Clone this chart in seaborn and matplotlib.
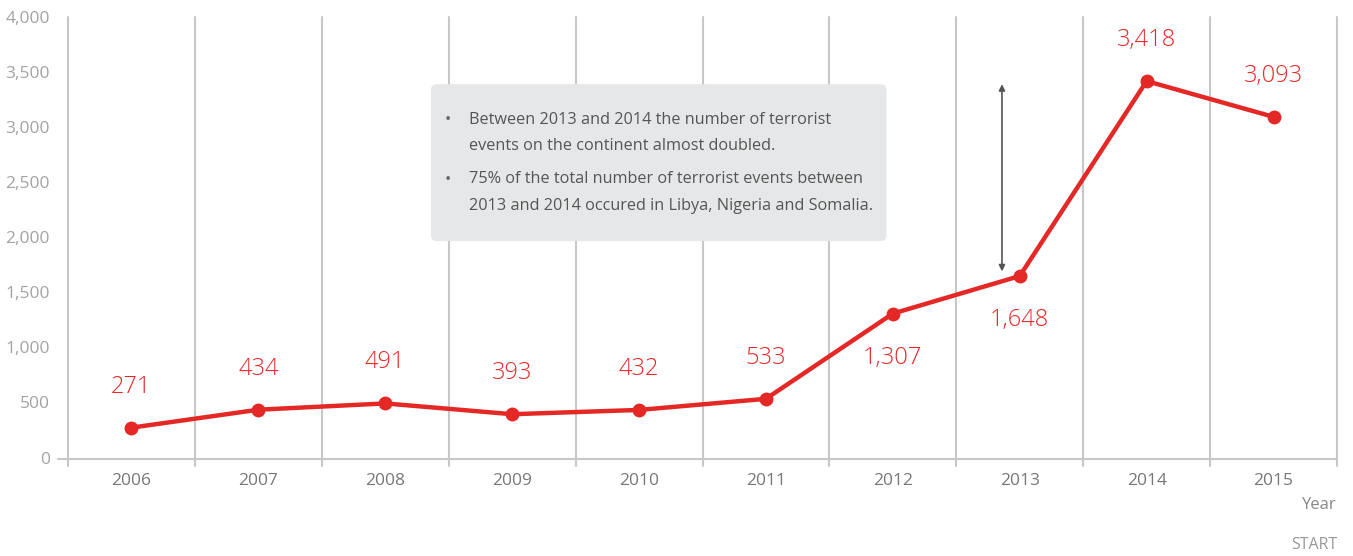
import matplotlib
matplotlib.use("Agg")
import matplotlib.pyplot as plt
import matplotlib.transforms as mtransforms
import seaborn as sns
import pandas as pd
from matplotlib.patches import FancyBboxPatch

# Data
years = ["2006", "2007", "2008", "2009", "2010", "2011", "2012", "2013", "2014", "2015"]
events = [271, 434, 491, 393, 432, 533, 1307, 1648, 3418, 3093]
label_below = ["2012", "2013"]
y_ticks = [0, 500, 1000, 1500, 2000, 2500, 3000, 3500, 4000]
notes = [
    "Between 2013 and 2014 the number of terrorist\nevents on the continent almost doubled.",
    "75% of the total number of terrorist events between\n2013 and 2014 occured in Libya, Nigeria and Somalia.",
]

df = pd.DataFrame({"year": years, "events": events})

sns.set_style("white")
plt.rcParams["font.family"] = ["Open Sans", "DejaVu Sans"]

RED = "#e42826"
GRID = "#c8c8c8"

fig = plt.figure(figsize=(13.53, 5.56), dpi=100)
ax = fig.add_axes([68 / 1353, 98.5 / 556, 1269 / 1353, 440.5 / 556])
ax.set_xlim(-0.5, 9.5)
ax.set_ylim(0, 4000)

# vertical separators between categories (extend below baseline as ticks)
for i in range(len(years) + 1):
    ax.plot([i - 0.5, i - 0.5], [-77, 4000], color=GRID, lw=1.5,
            clip_on=False, zorder=1)
# baseline
ax.plot([-0.58, 9.5], [-14, -14], color=GRID, lw=1.5, clip_on=False, zorder=1)

sns.lineplot(data=df, x="year", y="events", ax=ax, color=RED, lw=3.2,
             marker="o", markersize=10, markeredgewidth=0, sort=False,
             zorder=3)
ax.set_xlim(-0.5, 9.5)
ax.set_ylim(0, 4000)

for i, (yr, v) in enumerate(zip(years, events)):
    off = -44 if yr in label_below else 41
    ax.annotate(f"{v:,}", (i, v), xytext=(0, off * 0.72),
                textcoords="offset points", ha="center", va="center",
                color=RED, fontsize=17, fontweight="light")

# arrow between 2013 and 2014 levels
ax.annotate("", xy=(6.86, 1690), xytext=(6.86, 3390),
            arrowprops=dict(arrowstyle="<|-|>", color="#555555", lw=1.2,
                            mutation_scale=9, shrinkA=0, shrinkB=0))

# note box, rounded corners drawn in pixel space
(bx0, by0) = ax.transData.transform((2.36, 1965))
(bx1, by1) = ax.transData.transform((5.95, 3390))
box = FancyBboxPatch((bx0, by0), bx1 - bx0, by1 - by0,
                     boxstyle="round,pad=0,rounding_size=6",
                     facecolor="#e6e7e8", edgecolor="none", zorder=4,
                     transform=mtransforms.IdentityTransform())
ax.add_patch(box)
for note, ytext, ybullet in zip(notes, [3008, 2470], [3065, 2520]):
    ax.text(2.49, ybullet, "•", ha="center", va="center", fontsize=12,
            color="#666666", zorder=5)
    ax.text(2.66, ytext, note, ha="left", va="center_baseline",
            fontsize=11.7, color="#555555", linespacing=1.85, zorder=5)

ax.set_yticks(y_ticks)
ax.set_yticklabels([f"{t:,}" for t in y_ticks])
ax.tick_params(axis="y", length=0, pad=13, labelsize=12.5, labelcolor="#a3a3a3")
ax.tick_params(axis="x", length=0, pad=11, labelsize=12.5, labelcolor="#777777")
ax.set_xlabel("")
ax.set_ylabel("")
for s in ax.spines.values():
    s.set_visible(False)

fig.text(1337 / 1353, 1 - 505 / 556, "Year", ha="right", va="center",
         fontsize=12, color="#888888")
fig.text(1337 / 1353, 1 - 545 / 556, "START", ha="right", va="center",
         fontsize=11.5, color="#999999")

fig.savefig("out.png", dpi=100)
